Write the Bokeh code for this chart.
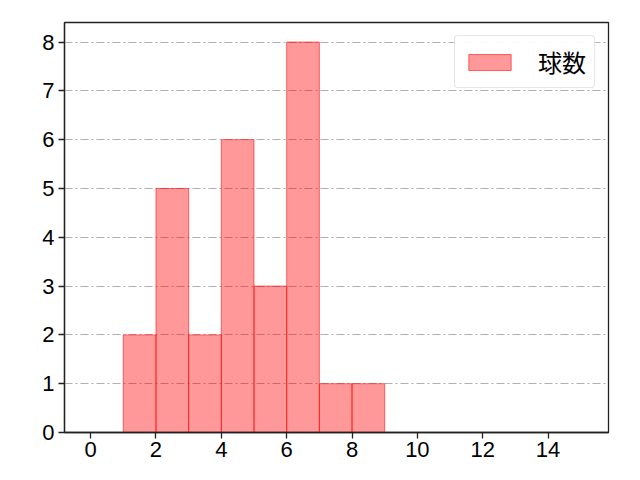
from bokeh.plotting import figure
from bokeh.embed import file_html
from bokeh.resources import INLINE
from bokeh.models import ColumnDataSource, Range1d, FixedTicker, Legend, LegendItem

# histogram data (bin edges and counts)
bin_left = [1, 2, 3, 4, 5, 6, 7, 8]
bin_right = [2, 3, 4, 5, 6, 7, 8, 9]
counts = [2, 5, 2, 6, 3, 8, 1, 1]
x_ticks = [0, 2, 4, 6, 8, 10, 12, 14]
y_ticks = [0, 1, 2, 3, 4, 5, 6, 7, 8]
series_name = "球数"

source = ColumnDataSource(data=dict(left=bin_left, right=bin_right, top=counts,
                                    bottom=[0] * len(counts)))

p = figure(width=640, height=480, output_backend="svg", toolbar_location=None,
           x_range=Range1d(-0.8, 15.85), y_range=Range1d(0, 8.4))
p.min_border_left = 64
p.min_border_right = 32
p.min_border_top = 22
p.min_border_bottom = 48

bars = p.quad(left="left", right="right", top="top", bottom="bottom", source=source,
              fill_color="red", fill_alpha=0.4, line_color="red", line_alpha=0.55,
              line_width=1)

p.xgrid.visible = False
p.ygrid.grid_line_color = "#b0b0b0"
p.ygrid.grid_line_dash = "8 3 2 3"
p.ygrid.grid_line_width = 1

p.xaxis.ticker = FixedTicker(ticks=x_ticks)
p.yaxis.ticker = FixedTicker(ticks=y_ticks)
for ax in (p.xaxis, p.yaxis):
    ax.minor_tick_line_color = None
    ax.major_tick_in = 0
    ax.major_tick_out = 6
    ax.major_tick_line_color = "#222222"
    ax.major_tick_line_width = 1.3
    ax.axis_line_color = "#222222"
    ax.axis_line_width = 1.3
    ax.major_label_text_font = "Liberation Sans"
    ax.major_label_text_font_size = "22px"
    ax.major_label_text_color = "black"
p.xaxis.major_label_standoff = 3
p.yaxis.major_label_standoff = 4

p.outline_line_color = "#222222"
p.outline_line_width = 1.3
p.outline_line_alpha = 1

legend = Legend(items=[LegendItem(label=series_name, renderers=[bars])],
                location="top_right")
legend.label_text_font = "Noto Sans CJK JP"
legend.label_text_font_size = "24px"
legend.label_text_color = "black"
legend.glyph_width = 53
legend.glyph_height = 20
legend.label_standoff = 22
legend.label_height = 20
legend.border_line_color = "#cccccc"
legend.border_radius = 4
legend.margin = 13
legend.padding = 8
legend.spacing = 0
p.add_layout(legend)

open("out.html", "w").write(file_html(p, INLINE))
